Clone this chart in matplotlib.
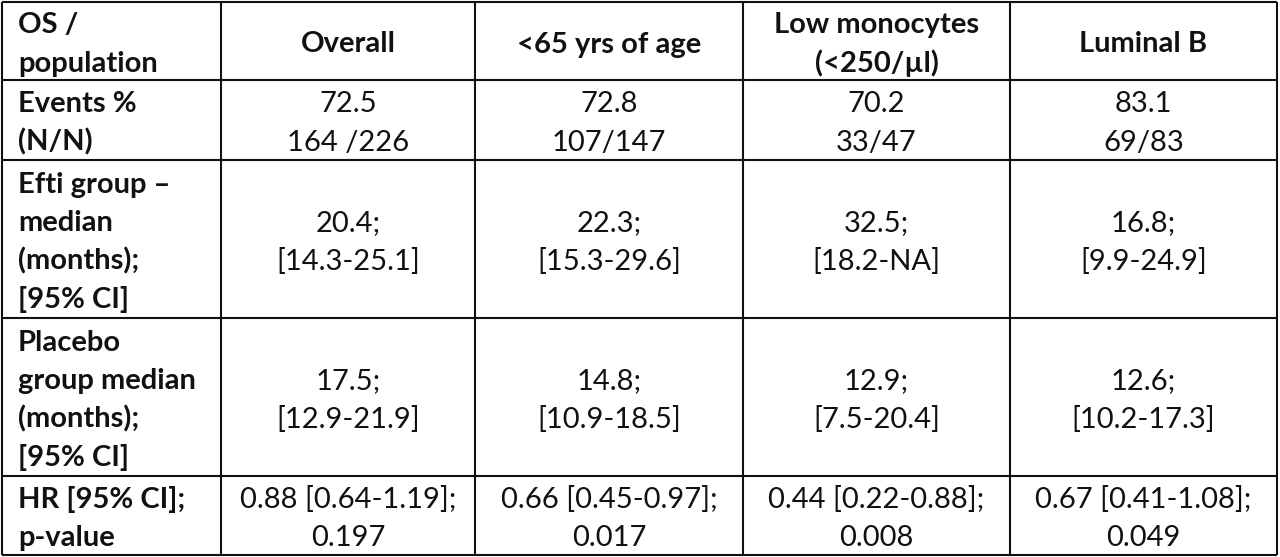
import matplotlib.pyplot as plt

plt.rcParams['font.family'] = ['Lato', 'DejaVu Sans']

# table content
row_labels = ['OS /\npopulation', 'Events %\n(N/N)', 'Efti group \u2013\nmedian\n(months);\n[95% CI]',
              'Placebo\ngroup median\n(months);\n[95% CI]', 'HR [95% CI];\np-value']
columns = ['Overall', '<65 yrs of age', 'Low monocytes\n(<250/\u00b5l)', 'Luminal B']
events_pct = ['72.5', '72.8', '70.2', '83.1']
events_n = ['164 /226', '107/147', '33/47', '69/83']
efti_median = ['20.4', '22.3', '32.5', '16.8']
efti_ci = ['[14.3-25.1]', '[15.3-29.6]', '[18.2-NA]', '[9.9-24.9]']
placebo_median = ['17.5', '14.8', '12.9', '12.6']
placebo_ci = ['[12.9-21.9]', '[10.9-18.5]', '[7.5-20.4]', '[10.2-17.3]']
hr = ['0.88 [0.64-1.19]', '0.66 [0.45-0.97]', '0.44 [0.22-0.88]', '0.67 [0.41-1.08]']
p_values = ['0.197', '0.017', '0.008', '0.049']

# grid geometry in pixels
col_edges = [2, 221, 475, 743, 1010, 1277]
row_edges = [2, 80, 160, 318, 476, 555]
LINE_H = 38.5
BASE_OFF = 11.5
FS = 21

fig = plt.figure(figsize=(12.8, 5.57), dpi=100)
ax = fig.add_axes([0, 0, 1, 1])
ax.set_xlim(0, 1280)
ax.set_ylim(557, 0)
ax.axis('off')

ax.hlines(row_edges, col_edges[0], col_edges[-1], color='#111111', lw=1.5)
ax.vlines(col_edges, row_edges[0], row_edges[-1], color='#111111', lw=1.5)


def cell_text(txt, r, c, bold=False, left=False):
    lines = txt.split('\n')
    yc = (row_edges[r] + row_edges[r + 1]) / 2
    n = len(lines)
    for i, ln in enumerate(lines):
        y = yc + BASE_OFF + (i - (n - 1) / 2) * LINE_H
        if left:
            x, ha = col_edges[c] + 16, 'left'
        else:
            x, ha = (col_edges[c] + col_edges[c + 1]) / 2, 'center'
        ax.text(x, y, ln, ha=ha, va='baseline', fontsize=FS,
                fontweight='bold' if bold else 'normal', color='#111111')


for r, lab in enumerate(row_labels):
    cell_text(lab, r, 0, bold=True, left=True)

for c in range(len(columns)):
    cell_text(columns[c], 0, c + 1, bold=True)
    cell_text(events_pct[c] + '\n' + events_n[c], 1, c + 1)
    cell_text(efti_median[c] + ';\n' + efti_ci[c], 2, c + 1)
    cell_text(placebo_median[c] + ';\n' + placebo_ci[c], 3, c + 1)
    cell_text(hr[c] + ';\n' + p_values[c], 4, c + 1)

fig.savefig('out.png', dpi=100)
